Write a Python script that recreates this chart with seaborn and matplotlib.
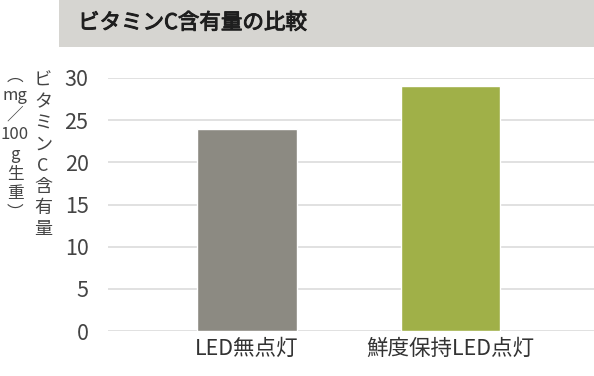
import matplotlib
matplotlib.use("Agg")
import matplotlib.pyplot as plt
import matplotlib.patheffects as pe
import seaborn as sns
import pandas as pd
from matplotlib.patches import Rectangle

categories = ["LED無点灯", "鮮度保持LED点灯"]
values = [24.0, 29.1]
bar_colors = ["#8c8a82", "#a0b048"]
yticks = [0, 5, 10, 15, 20, 25, 30]
title = "ビタミンC含有量の比較"
ylabel_main = ["ビ", "タ", "ミ", "ン", "C", "含", "有", "量"]
ylabel_unit = ["︵", "mg", "／", "100", "g", "生", "重", "︶"]

sns.set_theme(style="white")
plt.rcParams["font.family"] = ["Noto Sans CJK JP", "DejaVu Sans"]

W, H = 594, 376
fig = plt.figure(figsize=(W / 100, H / 100), dpi=100)
ax = fig.add_axes([108 / W, 1 - 331 / H, (W - 108) / W, (331 - 78) / H])

df = pd.DataFrame({"cat": categories, "val": values})
sns.barplot(data=df, x="cat", y="val", hue="cat", palette=bar_colors,
            width=0.49, legend=False, ax=ax, saturation=1)

ax.set_xlim(-0.683, 1.705)
ax.set_ylim(0, 30)
ax.set_yticks(yticks)
ax.set_yticklabels([str(t) for t in yticks])
ax.yaxis.grid(True, color="#dcdcdc", linewidth=1.2)
ax.set_axisbelow(True)
for s in ax.spines.values():
    s.set_visible(False)
ax.tick_params(axis="y", length=0, pad=14, labelsize=15.5, labelcolor="#444444")
ax.tick_params(axis="x", length=0, pad=5, labelsize=15.5, labelcolor="#333333")
ax.set_xlabel("")
ax.set_ylabel("")

# title band
fig.patches.append(Rectangle((59 / W, 1 - 47 / H), (W - 59) / W, 47 / H,
                             transform=fig.transFigure, facecolor="#d6d5d1",
                             edgecolor="none", zorder=0))
fig.text(78 / W, 1 - 23 / H, title, fontsize=15.5, color="#1e1e1e",
         va="center", ha="left",
         path_effects=[pe.withStroke(linewidth=0.7, foreground="#1e1e1e")])

# vertical y label (two columns)
for i, ch in enumerate(ylabel_main):
    fig.text(43 / W, 1 - (81 + i * 21.2) / H, ch, fontsize=13,
             color="#444444", ha="center", va="center")
for i, ch in enumerate(ylabel_unit):
    fig.text(15 / W, 1 - (76 + i * 19.6) / H, ch, fontsize=12,
             color="#444444", ha="center", va="center")

fig.savefig("out.png", dpi=100)
